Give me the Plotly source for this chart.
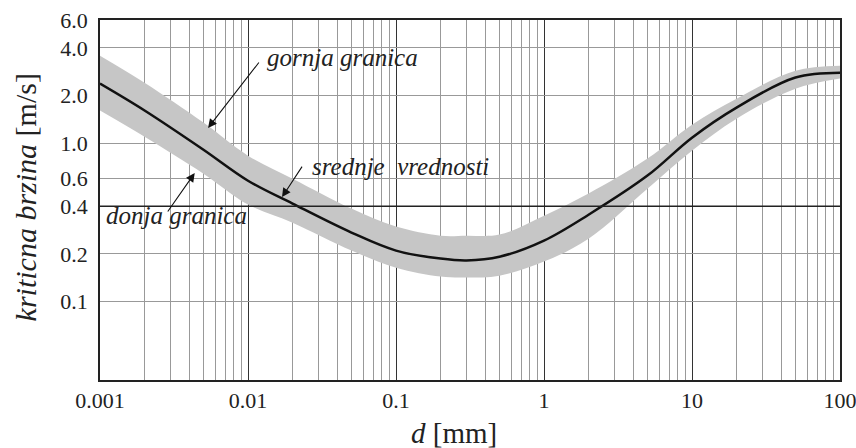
import numpy as np
import plotly.graph_objects as go

# promer zrna d [mm]
d = [0.001, 0.002, 0.005, 0.01, 0.02, 0.05, 0.1, 0.2, 0.3, 0.5,
     1, 2, 5, 10, 20, 50, 100]
# kriticna brzina [m/s]
srednje = [2.38, 1.61, 0.91, 0.58, 0.416, 0.273, 0.210, 0.187, 0.182, 0.192,
           0.243, 0.354, 0.625, 1.085, 1.68, 2.60, 2.79]
gornja = [3.57, 2.41, 1.35, 0.835, 0.598, 0.387, 0.298, 0.261, 0.261, 0.265,
          0.349, 0.481, 0.80, 1.31, 1.91, 2.87, 3.09]
donja = [1.61, 1.10, 0.643, 0.410, 0.315, 0.210, 0.164, 0.144, 0.142, 0.146,
         0.179, 0.250, 0.517, 0.898, 1.43, 2.21, 2.56]

x_ticks = [0.001, 0.01, 0.1, 1, 10, 100]
x_labels = ["0.001", "0.01", "0.1", "1", "10", "100"]
y_ticks = [0.1, 0.2, 0.4, 0.6, 1, 2, 4, 6]
y_labels = ["0.1", "0.2", "0.4", "0.6", "1.0", "2.0", "4.0", "6.0"]
x_minor = [m * 10.0 ** k for k in range(-3, 2) for m in range(2, 10)]

fig = go.Figure()

# siva zona izmedju granica
fig.add_trace(go.Scatter(x=d, y=gornja, mode="lines", line=dict(width=0, shape="spline"),
                         hoverinfo="skip", showlegend=False))
fig.add_trace(go.Scatter(x=d, y=donja, mode="lines", line=dict(width=0, shape="spline"),
                         fill="tonexty", fillcolor="#c6c6c6", showlegend=False))
# srednje vrednosti
fig.add_trace(go.Scatter(x=d, y=srednje, mode="lines",
                         line=dict(color="#111111", width=2.5, shape="spline"),
                         showlegend=False))

fig.add_hline(y=0.4, line=dict(color="#222222", width=1.5))

font = "Liberation Serif, serif"
ink = "#222222"

fig.update_xaxes(
    type="log", range=[-3, 2], automargin=False,
    tickmode="array", tickvals=x_ticks, ticktext=x_labels,
    tickfont=dict(size=22, family=font, color=ink),
    ticklabelstandoff=0, ticklabeloverflow="allow",
    showgrid=True, gridcolor="#333333", gridwidth=1.2,
    minor=dict(tickvals=x_minor, showgrid=True, gridcolor="#999999", gridwidth=1, ticks=""),
    showline=True, linecolor=ink, linewidth=1.5, mirror=True,
    ticks="", ticklen=0, zeroline=False)

fig.update_yaxes(
    type="log", range=[np.log10(6) - 360 / 158.4, np.log10(6)], automargin=False,
    tickmode="array", tickvals=y_ticks, ticktext=y_labels,
    tickfont=dict(size=22, family=font, color=ink),
    ticklabelstandoff=6, ticklabeloverflow="allow",
    showgrid=True, gridcolor="#999999", gridwidth=1,
    showline=True, linecolor=ink, linewidth=1.5, mirror=True,
    ticks="", ticklen=0, zeroline=False)

# naslovi osa
fig.add_annotation(x=-0.101, y=0.508, xref="paper", yref="paper", showarrow=False,
                   text="<i>kriticna brzina</i> [m/s]", textangle=-90,
                   xanchor="center", yanchor="middle",
                   font=dict(size=30, family=font, color=ink))
fig.add_annotation(x=0.478, y=-0.147, xref="paper", yref="paper", showarrow=False,
                   text="<i>d</i> [mm]", xanchor="center", yanchor="middle",
                   font=dict(size=29, family=font, color=ink))

txt = dict(size=25, family=font, color=ink)
arr = dict(showarrow=True, arrowhead=2, arrowsize=1.6, arrowwidth=1.1,
           arrowcolor="#111111", text="", xref="paper", yref="paper")

fig.add_annotation(x=0.223, y=0.897, xref="paper", yref="paper", showarrow=False,
                   text="<i>gornja granica</i>", xanchor="left", yanchor="middle", font=txt)
fig.add_annotation(x=0.284, y=0.594, xref="paper", yref="paper", showarrow=False,
                   text="<i>srednje  vrednosti</i>", xanchor="left", yanchor="middle", font=txt)
fig.add_annotation(x=0.005, y=0.456, xref="paper", yref="paper", showarrow=False,
                   text="<i>donja granica</i>", xanchor="left", yanchor="middle", font=txt)
fig.add_annotation(x=0.146, y=0.700, ax=52, ay=-67, **arr)
fig.add_annotation(x=0.246, y=0.508, ax=21, ay=-32, **arr)
fig.add_annotation(x=0.128, y=0.575, ax=-28, ay=40, **arr)

fig.update_layout(
    width=856, height=448,
    margin=dict(l=100, r=16, t=20, b=68),
    plot_bgcolor="white", paper_bgcolor="white",
    font=dict(family=font))

# bez margine stranice, bez skrolovanja i bez modebar-a
fig.write_html("out.html",
               config={"displayModeBar": False},
               post_script="document.body.style.margin='0';"
                           "document.body.style.overflow='hidden';")
